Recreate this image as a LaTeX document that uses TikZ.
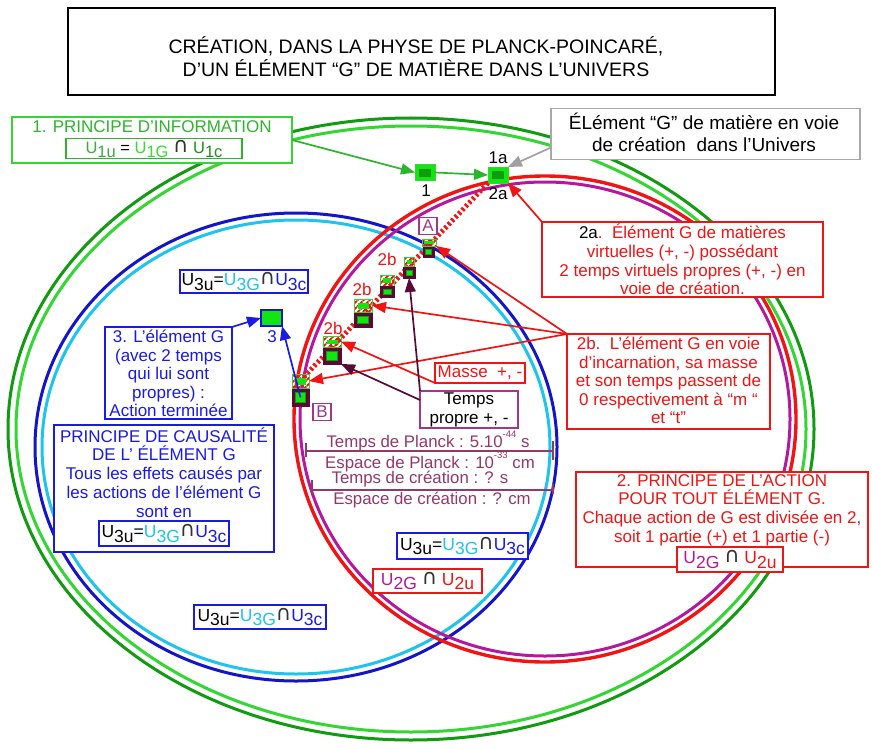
\documentclass[tikz,border=0pt]{standalone}
\usepackage{fontspec}
\setmainfont{Liberation Sans}
\newfontfamily\symfont{DejaVu Sans}
\usetikzlibrary{arrows.meta,patterns.meta}

\definecolor{ggreen}{HTML}{119B11}
\definecolor{lgreen}{HTML}{33D633}
\definecolor{tgreen}{HTML}{2DB52D}
\definecolor{ugreen}{HTML}{3CAA3C}
\definecolor{ubright}{HTML}{33DD33}
\definecolor{udark}{HTML}{1F8F1F}
\definecolor{lime}{HTML}{11E611}
\definecolor{rred}{HTML}{F01414}
\definecolor{mag}{HTML}{B4189E}
\definecolor{bblue}{HTML}{1414C8}
\definecolor{tblue}{HTML}{1A1AE6}
\definecolor{cyanl}{HTML}{1EC3EE}
\definecolor{plum}{HTML}{94386A}
\definecolor{maroon}{HTML}{5A0A34}
\definecolor{boxpurple}{HTML}{A0378C}
\definecolor{greyb}{HTML}{A8A8A8}
\definecolor{arrowgrey}{HTML}{A0A0A0}
\definecolor{capgrey}{HTML}{333333}

\newcommand\fs[2]{\fontsize{#1}{#2}\selectfont}
% U with a lowered index, as in U3G
\newcommand\Uset[2]{\textcolor{#1}{U\raisebox{-0.25em}{#2}}}
\newcommand\inter{\textcolor{capgrey}{\raisebox{0.05em}{\symfont\fs{21}{21}∩}}}
\newcommand\expo[1]{\raisebox{0.55em}{\fs{9.5}{9.5}#1}}

\begin{document}
\begin{tikzpicture}[x=1pt,y=-1pt,
  every node/.style={inner sep=0pt, outer sep=0pt},
  frame/.style={draw, fill=white, line width=1.6pt},
  txt/.style={align=center, font=\fs{17}{18.6}},
  ufont/.style={font=\fs{17.5}{18}},
  lbl/.style={font=\fs{17}{17}},
  arr/.style={-{Triangle[length=14pt,width=11pt]}, line width=1.7pt},
  ring/.style={line width=3pt},
  hatchpiece/.style={pattern={Lines[angle=45,distance=4pt,line width=2pt]},
    pattern color=rred, draw=lgreen, line width=0.6pt,
    path picture={\fill[lime] ([shift={(#1,#1)}]path picture bounding box.south west)
      rectangle ([shift={(-#1,-#1)}]path picture bounding box.north east);}},
  hatchpiece/.default=3pt,
  darkpiece/.style={fill=maroon, draw=maroon, line width=0.6pt,
    path picture={\filldraw[fill=lime, draw=ggreen, line width=0.6pt]
      ([shift={(#1,#1)}]path picture bounding box.south west)
      rectangle ([shift={(-#1,-#1)}]path picture bounding box.north east);}},
  darkpiece/.default=3pt,
  gnode/.style={fill=lime, draw=lgreen, line width=1pt, minimum width=20pt, minimum height=16pt,
    path picture={\fill[ggreen] ([shift={(4pt,4pt)}]path picture bounding box.south west)
      rectangle ([shift={(-4pt,-4pt)}]path picture bounding box.north east);}},
  tag/.style={draw=boxpurple, fill=white, line width=1.2pt, text=boxpurple,
    font=\fs{17}{17}, minimum width=18pt, minimum height=17pt},
  bar/.style={plum, line width=2.6pt},
  tick/.style={plum, line width=2.2pt},
  bartext/.style={text=plum, font=\fs{16.8}{17}}
]
\useasboundingbox (0,0) rectangle (872,749);
\fill[white] (0,0) rectangle (872,749);

% the nested universes
\draw[ring, ggreen] (411,429) ellipse [x radius=403pt, y radius=311pt];
\draw[ring, lgreen] (411,429) ellipse [x radius=395pt, y radius=303pt];
\draw[ring, bblue] (296,447) ellipse [x radius=261pt, y radius=234pt];
\draw[ring, cyanl] (296,447) ellipse [x radius=254pt, y radius=227pt];
\draw[line width=3.4pt, rred] (545,419) ellipse [x radius=251pt, y radius=243pt];
\draw[ring, mag] (545,419) ellipse [x radius=245pt, y radius=237pt];

% title
\node[draw, line width=1.2pt, minimum width=707pt, minimum height=87pt] (titlebox) at (421.5,51.5) {};
\node[align=center, font=\fs{19.5}{23}] (title) at (416,57)
  {CRÉATION, DANS LA PHYSE DE PLANCK-POINCARÉ,\\D’UN ÉLÉMENT “G” DE MATIÈRE DANS L’UNIVERS};

% information principle
\node[frame, draw=lgreen, minimum width=280pt, minimum height=46pt] (info) at (152,140) {};
\node[txt, text=tgreen] (infotxt) at (152,127) {1. PRINCIPE D’INFORMATION};
\node[frame, draw=tgreen, line width=1.4pt, minimum width=176pt, minimum height=20pt] (u1) at (154,148.5) {};
\node[font=\fs{16.5}{17}] (u1txt) at (154,149)
  {\Uset{ugreen}{1u} = \Uset{ubright}{1G} \inter{} \Uset{udark}{1c}};

% element G being created
\node[frame, draw=greyb, line width=1.4pt, minimum width=309pt, minimum height=51pt] (grey) at (705.5,134) {};
\node[align=center, font=\fs{19}{22}] (greytxt) at (704,132)
  {ÉLément “G” de matière en voie\\de création\ \ dans l’Univers};

% green nodes 1 and 1a/2a
\node[gnode] (n1) at (425,172.5) {};
\node[gnode] (n1a) at (498,175) {};
\node[lbl] (l1) at (426,191) {1};
\node[lbl] (l1a) at (498,158) {1a};
\node[lbl] (l2a) at (498,194) {2a};

\draw[arr, tgreen] (info.east) -- (n1.west);
\draw[arr, tgreen] (n1.east) -- (n1a.west);
\draw[arr, arrowgrey] ([yshift=12pt]grey.south west) -- (n1a.north east);

% incarnation path of element G
\draw[rred, line width=5pt, dash pattern=on 2.5pt off 2.5pt] (n1a.south west) -- (300,381);

\node[hatchpiece=2pt, minimum width=14pt, minimum height=7pt] (p1t) at (429,242.5) {};
\node[darkpiece=2.5pt, minimum width=11pt, minimum height=10pt] (p1b) at (428.5,252) {};
\node[hatchpiece=2.5pt, minimum width=10pt, minimum height=9pt] (p2t) at (409,261.5) {};
\node[darkpiece=3pt, minimum width=12pt, minimum height=11pt] (p2b) at (409,272.5) {};
\node[hatchpiece=3pt, minimum width=14pt, minimum height=11pt] (p3t) at (387,280.5) {};
\node[darkpiece=3pt, minimum width=14pt, minimum height=11pt] (p3b) at (387,291.5) {};
\node[hatchpiece=3.5pt, minimum width=18pt, minimum height=13pt] (p4t) at (363,305.5) {};
\node[darkpiece=3.5pt, minimum width=18pt, minimum height=14pt] (p4b) at (363,320) {};
\node[hatchpiece=3.5pt, minimum width=18pt, minimum height=11pt] (p5t) at (332,341.5) {};
\node[darkpiece=3.5pt, minimum width=18pt, minimum height=16pt] (p5b) at (332,356) {};
\node[hatchpiece=3.5pt, minimum width=17pt, minimum height=14pt] (p6t) at (300.5,381) {};
\node[darkpiece=3.5pt, minimum width=17pt, minimum height=17pt] (p6b) at (300.5,397.5) {};

\node[lbl, text=rred] (b1) at (387,259) {2b};
\node[lbl, text=rred] (b2) at (362,289) {2b};
\node[lbl, text=rred] (b3) at (333,328) {2b};

\node[tag] (tagA) at (428,226) {A};
\node[tag] (tagB) at (322,412) {B};

% element 3
\node[fill=lime, draw=bblue, line width=2.6pt, minimum width=21pt, minimum height=16pt] (n3) at (271.5,318) {};
\node[lbl, text=tblue] (l3) at (272,337) {3};

% explanation boxes
\node[frame, draw=rred, line width=1.5pt, minimum width=281pt, minimum height=75pt] (box2a) at (682.5,259.5) {};
\node[txt, text=rred] (box2atxt) at (682.5,259.5)
  {\textcolor{black}{2a}.\ \ Élément G de matières\\virtuelles (+, -) possédant\\2 temps virtuels propres (+, -) en\\voie de création.};

\node[frame, draw=rred, line width=1.5pt, minimum width=203pt, minimum height=95pt] (box2b) at (668.5,381.5) {};
\node[txt, text=rred] (box2btxt) at (668.5,380.5)
  {2b.\ \ L’élément G en voie\\d’incarnation, sa masse\\et son temps passent de\\0 respectivement à “m “\\et “t”};

\node[frame, draw=rred, line width=1.5pt, minimum width=90pt, minimum height=20pt, txt, text=rred] (masse) at (480,373) {Masse\ \ +, -};

\node[frame, draw=boxpurple, line width=1.5pt, minimum width=98pt, minimum height=37pt] (temps) at (469,409.5) {};
\node[txt] (tempstxt) at (469,410) {Temps\\propre +, -};

\node[frame, draw=tblue, line width=1.5pt, minimum width=127pt, minimum height=92pt] (box3) at (168.5,373) {};
\node[txt, text=tblue] (box3txt) at (168.5,373.5)
  {3. L’élément G\\(avec 2 temps\\qui lui sont\\propres) :\\Action terminée};

\node[frame, draw=tblue, line width=1.5pt, minimum width=220pt, minimum height=127pt] (causal) at (164,488.5) {};
\node[txt, text=tblue, font=\fs{17}{18.8}] (causaltxt) at (164,472.5)
  {PRINCIPE DE CAUSALITÉ\\DE L’ ÉLÉMENT G\\Tous les effets causés par\\les actions de l’élément G\\sont en};

\node[frame, draw=rred, line width=1.5pt, minimum width=292pt, minimum height=95pt] (action) at (722,519.5) {};
\node[txt, text=rred, font=\fs{17}{18.7}] (actiontxt) at (722,510)
  {2. PRINCIPE DE L’ACTION\\POUR TOUT ÉLÉMENT G.\\Chaque action de G est divisée en 2,\\soit 1 partie (+) et 1 partie (-)};

% set relations
\node[frame, draw=tblue, line width=1.5pt, minimum width=130pt, minimum height=25pt, ufont] (u3c) at (164,533.5)
  {U\raisebox{-0.25em}{3u}=\Uset{cyanl}{3G}\inter\Uset{tblue}{3c}};
\node[frame, draw=tblue, line width=1.5pt, minimum width=128pt, minimum height=23pt, ufont] (u3a) at (244,281.5)
  {U\raisebox{-0.25em}{3u}=\Uset{cyanl}{3G}\inter\Uset{tblue}{3c}};
\node[frame, draw=tblue, line width=1.5pt, minimum width=131pt, minimum height=26pt, ufont] (u3b) at (462.5,546)
  {U\raisebox{-0.25em}{3u}=\Uset{cyanl}{3G}\inter\Uset{tblue}{3c}};
\node[frame, draw=tblue, line width=1.5pt, minimum width=132pt, minimum height=24pt, ufont] (u3d) at (260,617)
  {U\raisebox{-0.25em}{3u}=\Uset{cyanl}{3G}\inter\Uset{tblue}{3c}};
\node[frame, draw=rred, line width=1.5pt, minimum width=109pt, minimum height=24pt, ufont] (u2a) at (427.5,581)
  {\Uset{mag}{2G} \inter{} \Uset{rred}{2u}};
\node[frame, draw=rred, line width=1.5pt, minimum width=106pt, minimum height=25pt, ufont] (u2b) at (730,559.5)
  {\Uset{mag}{2G} \inter{} \Uset{rred}{2u}};

% Planck scale and creation scale
\draw[bar] (306,451) -- (553,451);
\draw[tick] (306,443) -- (306,457);
\draw[tick] (553,441) -- (553,460);
\draw[bar] (312,490) -- (553,490);
\draw[tick] (312,480) -- (312,495);
\draw[tick] (553,484) -- (553,494);
\node[bartext] (tp) at (428,441) {Temps de Planck : 5.10\expo{-44} s};
\node[bartext] (ep) at (430,462) {Espace de Planck : 10\expo{-33} cm};
\node[bartext] (tc) at (420,479) {Temps de création : ? s};
\node[bartext] (ec) at (432,500) {Espace de création : ? cm};

% connectors
\draw[arr, rred] (box2a.north west) -- (n1a.south east);
\draw[arr, rred] (box2b.north west) -- (p1t.south east);
\draw[arr, rred] (box2b.north west) -- (p4t.east);
\draw[arr, rred] (box2b.north west) -- (p6t.east);
\draw[arr, rred] (masse.south west) -- (p5t.east);
\draw[arr, maroon] (temps.north west) -- (p2b.south);
\draw[arr, maroon] ([yshift=-9pt]temps.north west) -- (p5b.south east);
\draw[arr, tblue] (box3.north east) -- (n3.west);
\draw[arr, tblue] (p6b.center) -- (n3.south east);
\end{tikzpicture}
\end{document}
